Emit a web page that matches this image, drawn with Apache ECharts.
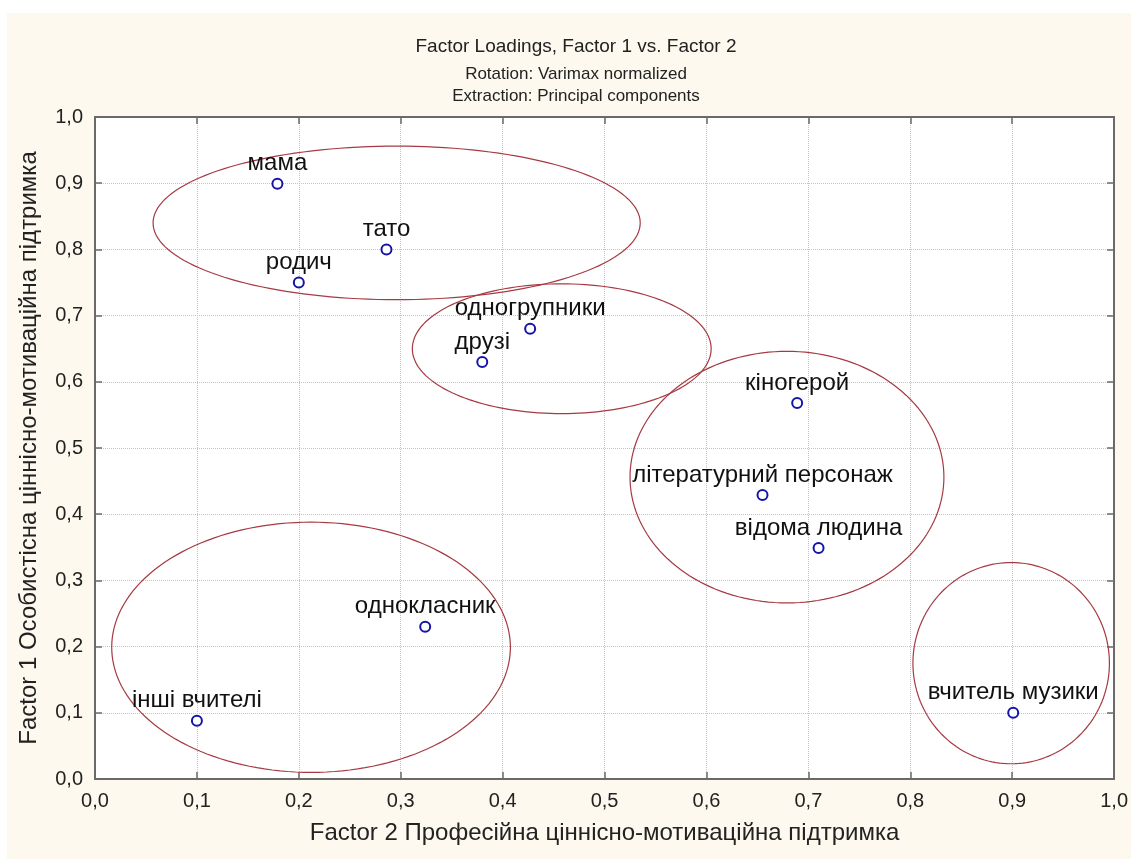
<!DOCTYPE html>
<html><head><meta charset="utf-8">
<script src="https://cdn.jsdelivr.net/npm/echarts@6/dist/echarts.min.js"></script>
<style>
html,body{margin:0;padding:0;background:#fff;}
#bg{position:absolute;left:7px;top:13px;right:0;bottom:0;background:#fdf9ee;}
#chart{position:absolute;left:0;top:0;width:1131px;height:859px;}
</style></head>
<body><div id="bg"></div><div id="chart"></div>
<script>
// Point data (Factor 2 on x, Factor 1 on y)
const names   = ['мама','тато','родич','одногрупники','друзі','кіногерой','літературний персонаж','відома людина','однокласник','інші вчителі','вчитель музики'];
const factor2 = [0.179, 0.286, 0.200, 0.427, 0.380, 0.689, 0.655, 0.710, 0.324, 0.100, 0.901];
const factor1 = [0.899, 0.800, 0.750, 0.680, 0.630, 0.568, 0.429, 0.349, 0.230, 0.088, 0.100];

// Group ellipses (centre x, centre y, radius x, radius y) in data units
const ellCx = [0.296, 0.458, 0.679, 0.212, 0.899];
const ellCy = [0.840, 0.650, 0.456, 0.199, 0.175];
const ellRx = [0.239, 0.1466, 0.154, 0.1956, 0.0964];
const ellRy = [0.116, 0.098, 0.190, 0.189, 0.152];

const tickValues = [0,0.1,0.2,0.3,0.4,0.5,0.6,0.7,0.8,0.9,1.0];

const FONT = '"Liberation Sans", Arial, sans-serif';
const fmt = v => v.toFixed(1).replace('.', ',');

const scatterData = names.map((n,i) => [factor2[i], factor1[i], n]);
const ellData = ellCx.map((c,i) => [ellCx[i], ellCy[i], ellRx[i], ellRy[i]]);

const axisLineStyle = {color:'#6a6a6a', width:2};
function mainAxis(pos, name, nameGap) {
  return {
    type:'value', min:0, max:1, interval:0.1, position:pos,
    axisLine:{show:true, onZero:false, lineStyle:axisLineStyle},
    axisTick:{show:true, inside:true, length:7, lineStyle:{color:'#6a6a6a', width:1.5}},
    axisLabel:{show:true, formatter:fmt, fontFamily:FONT, fontSize:20, color:'#222', margin:12},
    splitLine:{show:true, lineStyle:{type:'dotted', color:'#c4c4c4', width:1}},
    name:name, nameLocation:'middle', nameGap:nameGap,
    nameTextStyle:{fontFamily:FONT, fontSize:24, color:'#222'}
  };
}
function sideAxis(pos) {
  return {
    type:'value', min:0, max:1, interval:0.1, position:pos,
    axisLine:{show:true, onZero:false, lineStyle:axisLineStyle},
    axisTick:{show:true, inside:true, length:7, lineStyle:{color:'#6a6a6a', width:1.5}},
    axisLabel:{show:false}, splitLine:{show:false}
  };
}

const chart = echarts.init(document.getElementById('chart'), null, {renderer:'canvas'});
chart.setOption({
  backgroundColor:'transparent',
  animation:false,
  title:[
    {text:'Factor Loadings, Factor 1 vs. Factor 2', left:571, top:32, textAlign:'center',
     textStyle:{fontFamily:FONT, fontSize:19, fontWeight:'normal', color:'#222'}},
    {text:'Rotation: Varimax normalized\nExtraction: Principal components', left:571, top:58, textAlign:'center',
     textStyle:{fontFamily:FONT, fontSize:17, fontWeight:'normal', color:'#222', lineHeight:22}}
  ],
  grid:{left:95, right:16, top:117, bottom:80, show:true, backgroundColor:'#ffffff', borderWidth:0},
  xAxis:[mainAxis('bottom','Factor 2 Професійна ціннісно-мотиваційна підтримка', 42), sideAxis('top')],
  yAxis:[mainAxis('left','Factor 1 Особистісна ціннісно-мотиваційна підтримка', 54), sideAxis('right')],
  series:[
    {
      type:'custom', xAxisIndex:0, yAxisIndex:0, silent:true,
      data:ellData,
      encode:{x:0, y:1},
      renderItem:function(params, api){
        const cx = api.value(0), cy = api.value(1), rx = api.value(2), ry = api.value(3);
        const pts = [];
        const N = 160;
        for (let k=0;k<N;k++){
          const t = 2*Math.PI*k/N;
          pts.push(api.coord([cx + rx*Math.cos(t), cy + ry*Math.sin(t)]));
        }
        return {type:'polygon', shape:{points:pts}, style:{fill:'none', stroke:'#a63a42', lineWidth:1.2}};
      },
      z:2
    },
    {
      type:'scatter', xAxisIndex:0, yAxisIndex:0,
      data:scatterData,
      symbol:'circle', symbolSize:10,
      itemStyle:{color:'#ffffff', borderColor:'#1414a8', borderWidth:2, opacity:1},
      label:{show:true, position:'top', distance:2, formatter:p=>p.data[2],
             fontFamily:FONT, fontSize:24, color:'#111'},
      z:3
    }
  ]
});
</script>
</body></html>
